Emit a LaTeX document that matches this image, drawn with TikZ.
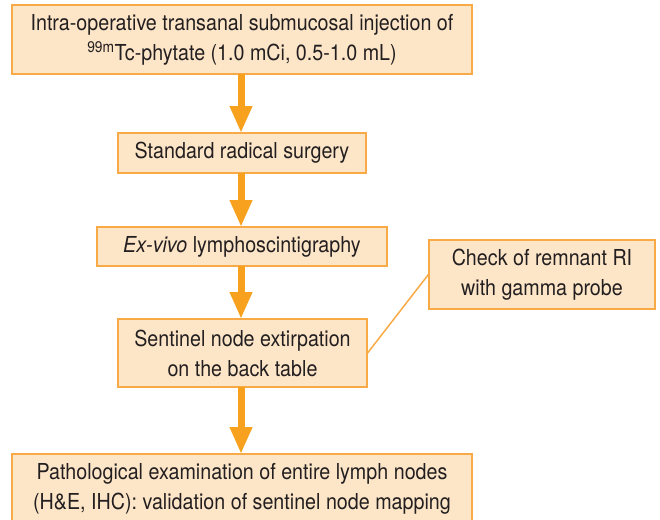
\documentclass[tikz,border=0pt]{standalone}
\usepackage{fontspec}
\setmainfont{TeX Gyre Heros}[FakeStretch=0.895]
\usepackage{xcolor}
\usetikzlibrary{arrows.meta}
\definecolor{boxfill}{HTML}{FDE6C8}
\definecolor{boxline}{HTML}{F7AA45}
\definecolor{flowarrow}{HTML}{F7A11F}
\definecolor{ink}{HTML}{231F20}

\begin{document}
\begin{tikzpicture}[x=1pt,y=-1pt,
	stagebox/.style={draw=boxline,fill=boxfill,line width=1.2pt,text=ink,align=center,
		inner sep=0pt,font=\fontsize{22pt}{30pt}\selectfont},
	flow/.style={draw=flowarrow,line width=7pt,-{Triangle[width=21pt,length=27pt]}}]
	\useasboundingbox (0,0) rectangle (660,519);

	\node [stagebox,minimum width=460pt,minimum height=69pt] (inject) at (242,39.5)
		{Intra-operative transanal submucosal injection of\\\textsuperscript{99m}Tc-phytate (1.0 mCi, 0.5-1.0 mL)};
	\node [stagebox,minimum width=248pt,minimum height=40pt] (surgery) at (242,153) {Standard radical surgery};
	\node [stagebox,minimum width=290pt,minimum height=39pt] (scinti) at (242,246.5) {\textit{Ex-vivo} lymphoscintigraphy};
	\node [stagebox,minimum width=249pt,minimum height=68pt] (extirp) at (242.5,353) {Sentinel node extirpation\\on the back table};
	\node [stagebox,minimum width=226pt,minimum height=69pt] (probe) at (542,274.5) {Check of remnant RI\\with gamma probe};
	\node [stagebox,minimum width=460pt,minimum height=69pt] (patho) at (242,488.5)
		{Pathological examination of entire lymph nodes\\(H\&E, IHC): validation of sentinel node mapping};

	\draw [flow] (241,74) -- (241,133);
	\draw [flow] (241,173) -- (241,227);
	\draw [flow] (241,266) -- (241,319);
	\draw [flow] (241,387) -- (241,454);

	\draw [boxline,line width=1.5pt] (extirp.east) -- (probe.west);
\end{tikzpicture}
\end{document}
